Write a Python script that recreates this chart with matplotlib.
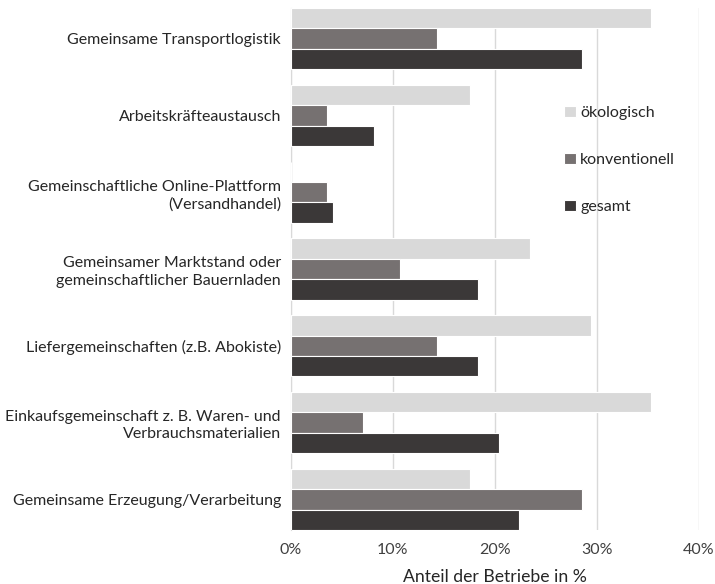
import numpy as np
import matplotlib.pyplot as plt

categories = [
    "Gemeinsame Transportlogistik",
    "Arbeitskräfteaustausch",
    "Gemeinschaftliche Online-Plattform\n(Versandhandel)",
    "Gemeinsamer Marktstand oder\ngemeinschaftlicher Bauernladen",
    "Liefergemeinschaften (z.B. Abokiste)",
    "Einkaufsgemeinschaft z. B. Waren- und\nVerbrauchsmaterialien",
    "Gemeinsame Erzeugung/Verarbeitung",
]
oekologisch = [35.3, 17.6, 0.0, 23.5, 29.4, 35.3, 17.6]
konventionell = [14.3, 3.6, 3.6, 10.7, 14.3, 7.1, 28.6]
gesamt = [28.6, 8.2, 4.1, 18.4, 18.4, 20.4, 22.4]
series_labels = ["ökologisch", "konventionell", "gesamt"]
xticks = [0, 10, 20, 30, 40]

colors = ["#d9d9d9", "#767171", "#3b3838"]
plt.rcParams['font.family'] = ['Lato', 'DejaVu Sans']

fig = plt.figure(figsize=(7.15, 5.84), dpi=100)
ax = fig.add_axes([290.7 / 715, 1 - 530 / 584, (698.7 - 290.7) / 715, 522 / 584])

y = np.arange(len(categories))
h = 0.265
handles = []
for i, (vals, lab) in enumerate(zip([oekologisch, konventionell, gesamt], series_labels)):
    b = ax.barh(y + (i - 1) * h, vals, height=h, color=colors[i],
                edgecolor="white", linewidth=0.8, label=lab, zorder=3)
    handles.append(b)

ax.set_ylim(len(categories) - 1 + 1.5 * h, -1.5 * h)
ax.set_xlim(0, 40)
ax.set_xticks(xticks)
ax.set_xticklabels([f"{t}%" for t in xticks], fontsize=11.5, color="#404040")
ax.set_yticks(y)
ax.set_yticklabels(categories, fontsize=11.5, color="#262626", linespacing=1.3)
ax.tick_params(axis="both", length=0)
ax.tick_params(axis="y", pad=7)
ax.tick_params(axis="x", pad=9)
ax.grid(axis="x", color="#d9d9d9", linewidth=1, zorder=0)
for s in ["top", "right", "bottom"]:
    ax.spines[s].set_visible(False)
ax.spines["left"].set_color("#d9d9d9")
ax.set_xlabel("Anteil der Betriebe in %", fontsize=12.7, color="#262626", labelpad=9)

ax.legend(handles=handles, loc="upper left", bbox_to_anchor=(0.655, 0.825),
          frameon=False, fontsize=11.5, handlelength=0.7, handleheight=0.7,
          handletextpad=0.3, labelspacing=2.05, labelcolor="#262626",
          borderaxespad=0)

fig.savefig("out.png", dpi=100)
